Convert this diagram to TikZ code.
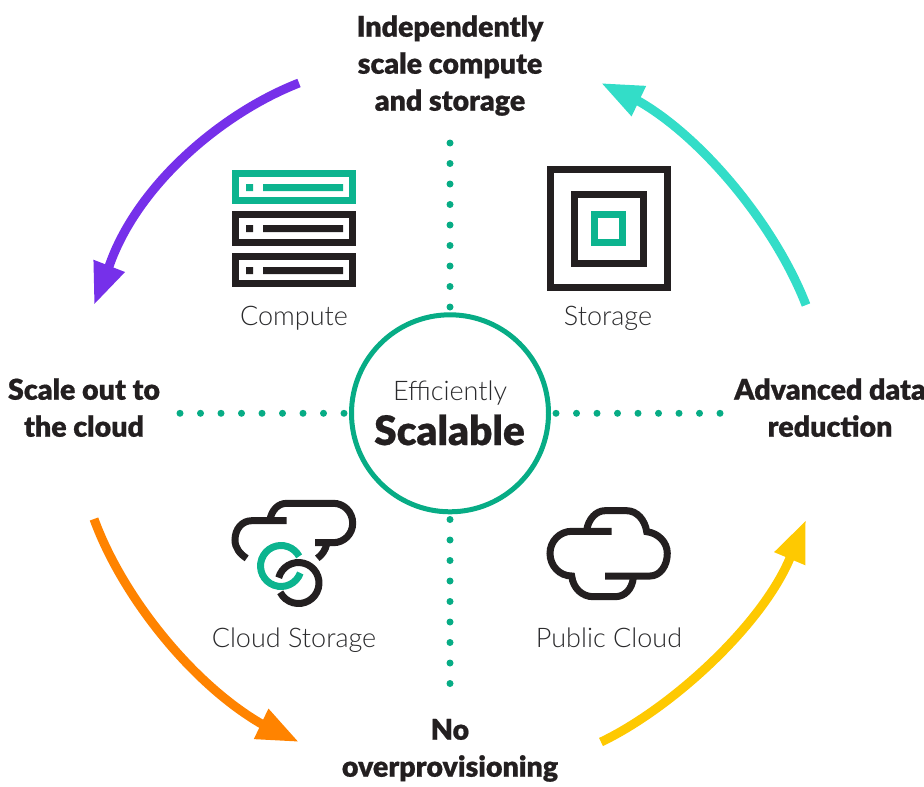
\documentclass[tikz,border=0pt]{standalone}
\usepackage{fontspec}
\setmainfont{Lato}
\newfontfamily\blk[FakeBold=0.6]{Lato Black}
\newfontfamily\lgt{Lato Light}
\usetikzlibrary{arrows.meta}
\definecolor{hgreen}{HTML}{07AC85}
\definecolor{igreen}{HTML}{0CB48F}
\definecolor{ink}{HTML}{231F20}
\definecolor{txt}{HTML}{2A2A2C}
\definecolor{hpurple}{HTML}{7630EA}
\definecolor{hteal}{HTML}{33DDC8}
\definecolor{horange}{HTML}{FF8300}
\definecolor{hyellow}{HTML}{FEC901}
\tikzset{
  x=1pt,y=-1pt,
  headline/.style={font=\blk\fontsize{28.6}{37}\selectfont,text=ink,align=center,anchor=base,inner sep=0pt},
  caption/.style={font=\lgt\fontsize{27}{32}\selectfont,text=txt,anchor=base,inner sep=0pt},
  sweep/.style={line width=9pt,-{Triangle[length=42pt,width=31pt]}},
  dots/.style={hgreen,line width=7pt,line cap=round,dash pattern=on 0pt off 20.5pt},
  ico/.style={line width=7pt,draw=ink},
  icog/.style={line width=7pt,draw=igreen},
  cloudline/.style={line width=7pt,draw=ink,line cap=butt},
}
\begin{document}
\begin{tikzpicture}
\useasboundingbox (0,0) rectangle (924,787);
% labels
\node[headline] (top) at (450,110.7) {Independently\\scale compute\\and storage};
\node[headline] (left) at (84,436.7) {Scale out to\\the cloud};
\node[headline] (right) at (830,436.7) {Advanced data\\reduction};
\node[headline] (bottom) at (450,776.7) {No\\overprovisioning};
% centre
\node[circle,draw=hgreen,line width=5pt,minimum size=197pt,inner sep=0pt,fill=white] (hub) at (450,413.3) {};
\node[caption] (eff) at (450,400) {Efficiently};
\node[anchor=base,inner sep=0pt,text=ink,font=\blk\fontsize{40.6}{44}\selectfont] (sca) at (449.5,445) {Scalable};
% dotted spokes
\coordinate (t0) at (450,143); \coordinate (t1) at (450,307.2);
\coordinate (b0) at (450,519.5); \coordinate (b1) at (450,683.7);
\coordinate (l0) at (180,413.3); \coordinate (l1) at (344.2,413.3);
\coordinate (r0) at (556,413.3); \coordinate (r1) at (720.2,413.3);
\draw[dots] (t0) -- (t1);
\draw[dots] (b0) -- (b1);
\draw[dots] (l0) -- (l1);
\draw[dots] (r0) -- (r1);
% sweeping arrows
\coordinate (ps) at (299,83); \coordinate (pn) at (109,266.5); \coordinate (pt) at (94,305);
\draw[sweep,hpurple] (ps) .. controls (222,113) and (137,185) .. (pn) -- (pt);
\coordinate (ts) at (806,305); \coordinate (tn) at (637.5,100.5); \coordinate (tt) at (601,83);
\draw[sweep,hteal] (ts) .. controls (775,225) and (702,137) .. (tn) -- (tt);
\coordinate (os) at (94,519); \coordinate (on) at (262.5,724.5); \coordinate (ot) at (299,742);
\draw[sweep,horange] (os) .. controls (122,596) and (192,684) .. (on) -- (ot);
\coordinate (ys) at (601,742); \coordinate (yn) at (790,558); \coordinate (yt) at (806,520);
\draw[sweep,hyellow] (ys) .. controls (672,708) and (762,625) .. (yn) -- (yt);
% compute icon
\draw[icog] (235.5,173.5) rectangle (352.5,200.5);
\fill[igreen] (246,184) rectangle (253,191) (263,184) rectangle (343,191);
\draw[ico] (235.5,214.5) rectangle (352.5,242.5);
\fill[ink] (246,225) rectangle (253,232) (263,225) rectangle (343,232);
\draw[ico] (235.5,256.5) rectangle (352.5,283.5);
\fill[ink] (246,267) rectangle (253,274) (263,267) rectangle (343,274);
\node[caption] (ccomp) at (294,325) {Compute};
% storage icon
\draw[ico] (550.5,169.5) rectangle (667.5,287.5);
\draw[ico] (574.5,194.5) rectangle (643.5,263.5);
\draw[icog] (594.5,214.5) rectangle (622.5,242.5);
\node[caption] (cstor) at (608,325) {Storage};
% cloud storage icon
\draw[cloudline] (286.7,520.7) -- (251.7,520.7) .. controls (242,520.7) and (235,529) .. (235,540) .. controls (235,548) and (240,554) .. (246.7,558.3);
\draw[cloudline] (270,519.3) .. controls (272,510) and (278,503.3) .. (287,503.3) -- (333.3,503.3) .. controls (344,503.3) and (352.7,512) .. (352.7,523.3) .. controls (352.7,534) and (344,542.7) .. (333.3,542.7) -- (315,542.7);
\draw[cloudline] (326.7,544) .. controls (325.5,550) and (322,555) .. (317.3,558.3);
\draw[icog] (300.3,573) arc[start angle=20,end angle=332,radius=20.5];
\draw[cloudline] (278.7,577.7) arc[start angle=195,end angle=513,radius=20.5];
\node[caption] (ccs) at (294,647) {Cloud Storage};
% public cloud icon
\draw[cloudline] (611.7,531.3) -- (571.7,531.3) .. controls (559.7,531.3) and (550,541.3) .. (550,553.3) .. controls (550,566) and (559.7,576) .. (571.7,576) .. controls (573,588) and (582,596.7) .. (593.3,596.7) -- (615,596.7) .. controls (625,596.7) and (632,589) .. (633.3,578);
\draw[cloudline] (605,576) -- (650,576) .. controls (660,576) and (667.3,566) .. (667.3,553.3) .. controls (667.3,542) and (658,533) .. (646.7,531.7) .. controls (645,520) and (637,510.7) .. (626.7,510.7) -- (605,510.7) .. controls (596,510.7) and (588.5,519) .. (586.7,530);
\node[caption] (cpc) at (609,647) {Public Cloud};
\end{tikzpicture}
\end{document}
